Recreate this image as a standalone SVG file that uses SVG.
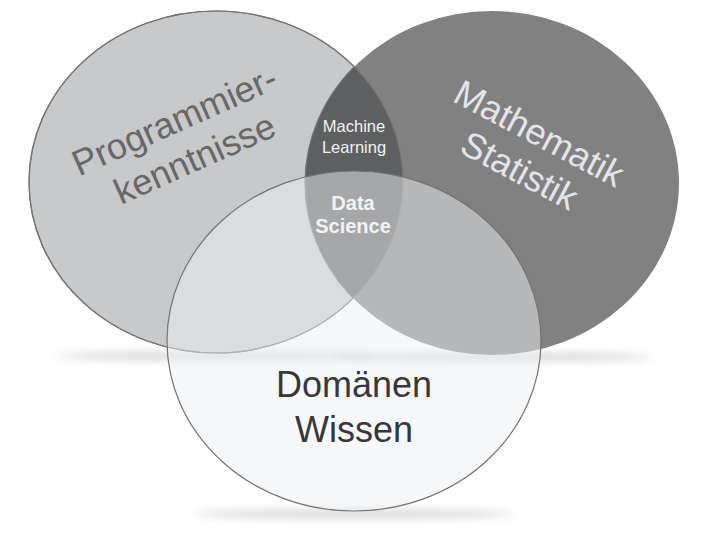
<svg xmlns="http://www.w3.org/2000/svg" width="703" height="539" viewBox="0 0 703 539">
  <defs>
    <filter id="blur" x="-20%" y="-200%" width="140%" height="500%">
      <feGaussianBlur stdDeviation="4"/>
    </filter>
    <clipPath id="clipLeft">
      <ellipse cx="216" cy="182" rx="187" ry="171"/>
    </clipPath>
    <style>
      .edge { stroke: #747474; stroke-width: 1.2; }
      .shadow { fill: #000; opacity: 0.14; filter: url(#blur); }
      .t { font-family: "Liberation Sans", Arial, Helvetica, sans-serif; text-anchor: middle; }
      .prog { fill: #686868; font-size: 36px; }
      .math { fill: #e3e5ea; font-size: 36px; }
      .dom { fill: #383838; font-size: 36px; }
      .ml { fill: #f2f2f2; font-size: 16.5px; }
      .ds { fill: #f2f3f4; font-size: 20px; font-weight: bold; }
    </style>
  </defs>
  <rect width="703" height="539" fill="#ffffff"/>

  <g id="shadows">
    <ellipse class="shadow" cx="216" cy="356" rx="160" ry="5"/>
    <ellipse class="shadow" cx="492" cy="357" rx="160" ry="5"/>
    <ellipse class="shadow" cx="354" cy="514" rx="160" ry="5"/>
  </g>

  <g id="programmierkenntnisse">
    <ellipse cx="216" cy="182" rx="187" ry="171" fill="#c8c9cb" class="edge"/>
  </g>

  <g id="mathematik-statistik">
    <ellipse cx="492" cy="183" rx="187" ry="172" fill="#818181"/>
  </g>

  <g id="machine-learning">
    <ellipse cx="492" cy="183" rx="187" ry="172" fill="#5e5f60" clip-path="url(#clipLeft)"/>
    <ellipse cx="216" cy="182" rx="187" ry="171" fill="none" class="edge"/>
    <ellipse cx="492" cy="183" rx="187" ry="172" fill="none" class="edge" clip-path="url(#clipLeft)"/>
  </g>

  <g id="domaenen-wissen">
    <ellipse cx="354" cy="341" rx="187" ry="170" fill="#eeeff1" fill-opacity="0.5" class="edge"/>
  </g>

  <g id="labels">
    <g transform="translate(188,151) rotate(-24)">
      <text class="t prog" x="0" y="-21">Programmier-</text>
      <text class="t prog" x="3" y="22">kenntnisse</text>
    </g>
    <g transform="translate(524,162) rotate(28)">
      <text class="t math" x="0" y="-20">Mathematik</text>
      <text class="t math" x="0" y="22">Statistik</text>
    </g>
    <text class="t ml" x="354" y="132">Machine</text>
    <text class="t ml" x="354" y="153">Learning</text>
    <g id="data-science">
      <text class="t ds" x="353" y="210">Data</text>
      <text class="t ds" x="353" y="233">Science</text>
    </g>
    <text class="t dom" x="354" y="397">Domänen</text>
    <text class="t dom" x="354" y="442">Wissen</text>
  </g>
</svg>
